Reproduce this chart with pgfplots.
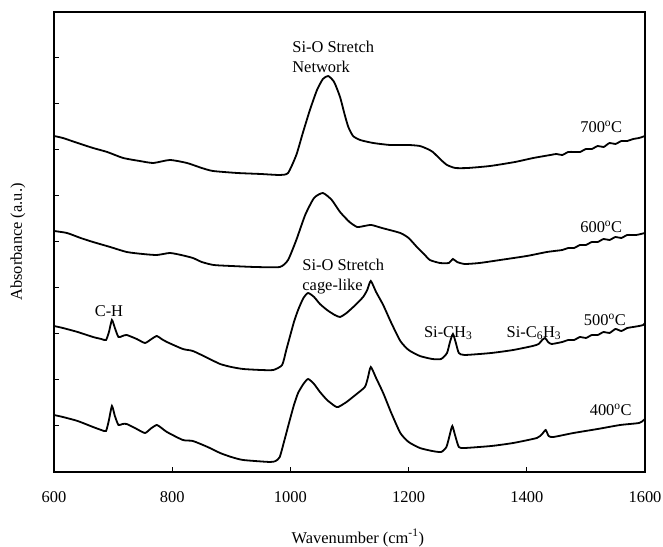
\documentclass[border=0pt]{standalone}
\usepackage{fontspec}
\setmainfont{Liberation Serif}
\usepackage{pgfplots}
\pgfplotsset{compat=1.18}
\usetikzlibrary{calc}

% y values are offset absorbance in arbitrary units (0..460)
\pgfplotstableread{
wn y
600 336
615 334
640 329
666 324
690 320
717 314
745 311
768 309
796 312
825 309
850 304
869 301
910 299
950 298
982 297
996 299
1010 317
1021 339
1033 362
1045 382
1055 393
1064 396
1074 390
1084 375
1092 357
1098 345
1106 336
1118 332
1140 329
1169 327
1200 327
1219 326
1232 323
1241 320
1255 312
1265 307
1279 304
1300 304
1338 306
1380 310
1411 314
1440 317
1450 318
1460 317
1470 320
1480 320
1490 320
1500 323
1510 323
1520 326
1530 325
1540 329
1550 328
1560 331
1570 331
1580 333
1590 334
1600 336
}\tseven

\pgfplotstableread{
wn y
600 241
622 239
645 234
666 230
695 225
723 220
750 218
774 217
796 219
815 217
835 214
850 210
870 207
900 206
940 205
982 205
996 212
1010 232
1025 257
1040 274
1055 279
1070 272
1084 260
1100 250
1113 245
1125 246
1137 247
1155 244
1186 239
1200 234
1214 225
1226 218
1236 212
1253 209
1268 209
1275 213
1282 210
1295 208
1320 209
1355 212
1400 216
1434 220
1460 222
1470 224
1480 224
1490 227
1500 227
1510 230
1520 230
1530 233
1540 232
1550 235
1560 234
1570 237
1585 237
1600 239
}\tsix

\pgfplotstableread{
wn y
600 146
615 144
640 140
666 135
680 133
688 132
693 140
698 152
703 144
709 135
716 136
723 137
740 133
754 129
765 133
774 136
782 133
791 130
818 123
835 121
860 114
881 108
900 105
920 103
950 102
971 102
986 107
993 122
999 135
1006 150
1013 162
1022 174
1030 179
1040 175
1050 168
1062 162
1075 157
1084 155
1095 159
1110 167
1123 175
1130 182
1136 191
1145 180
1157 167
1170 150
1186 131
1200 122
1219 116
1240 113
1255 113
1265 119
1270 130
1275 138
1280 129
1285 119
1295 117
1340 119
1377 122
1410 126
1420 128
1426 132
1431 134
1436 130
1442 128
1460 130
1470 132
1480 132
1490 135
1500 134
1510 137
1520 137
1530 140
1540 139
1550 143
1560 141
1570 144
1580 145
1590 146
1597 147
1600 149
}\tfive

\pgfplotstableread{
wn y
600 57
615 55
640 51
666 45
680 42
688 41
693 52
698 66
703 56
709 47
716 48
723 48
740 43
754 39
765 44
774 47
782 44
791 40
818 32
835 31
860 25
881 19
900 15
920 12
965 10
975 11
982 15
990 32
999 52
1006 67
1013 79
1022 88
1030 93
1040 88
1050 80
1062 72
1075 66
1081 65
1095 70
1110 77
1126 85
1131 94
1136 105
1145 94
1157 79
1170 60
1186 39
1200 30
1219 24
1240 21
1255 20
1264 25
1270 38
1274 46
1279 36
1285 25
1295 24
1340 26
1377 29
1417 34
1426 38
1432 42
1437 36
1445 35
1479 39
1520 43
1558 47
1590 49
1598 52
1600 53
}\tfour

\begin{document}
\fontsize{16.5}{20}\selectfont
\begin{tikzpicture}
  \begin{axis}[
    scale only axis, width=591bp, height=460bp,
    xmin=600, xmax=1600, ymin=0, ymax=460,
    xtick={600,800,...,1600},
    ytick={46,92,...,414}, yticklabels={},
    tick align=inside, xtick pos=bottom, ytick pos=left,
    major tick length=5bp,
    axis line style={line width=1.4bp},
    every tick/.style={black, line width=1bp},
    /pgf/number format/assume math mode=true,
    /pgf/number format/set thousands separator={},
    xticklabel style={font=\fontsize{16.5}{20}\selectfont, yshift=-14bp},
    xlabel={Wavenumber (cm\textsuperscript{-1})},
    ylabel={Absorbance (a.u.)},
    x label style={at={(axis description cs:0.514,0)}, anchor=center, yshift=-66bp},
    y label style={at={(axis description cs:-0.061,0.5)}, anchor=center},
    label style={font=\fontsize{16.5}{20}\selectfont},
    spectrum/.style={black, line width=1.8bp, no markers, smooth, tension=0.35},
  ]
    \addplot[spectrum] table[x=wn, y=y] {\tseven};
    \addplot[spectrum] table[x=wn, y=y] {\tsix};
    \addplot[spectrum] table[x=wn, y=y] {\tfive};
    \addplot[spectrum] table[x=wn, y=y] {\tfour};

    \node[anchor=north west, align=left, inner sep=0pt] at (axis cs:1003,431) {Si-O Stretch\\Network};
    \node[anchor=north west, align=left, inner sep=0pt] at (axis cs:1020,213) {Si-O Stretch\\cage-like};
    \node at (axis cs:693,161) {C-H};
    \node at (axis cs:1267,139) {Si-CH\textsubscript{3}};
    \node at (axis cs:1412,139) {Si-C\textsubscript{6}H\textsubscript{3}};
    \node at (axis cs:1526,345) {700\textsuperscript{o}C};
    \node at (axis cs:1526,245) {600\textsuperscript{o}C};
    \node at (axis cs:1532,152) {500\textsuperscript{o}C};
    \node at (axis cs:1542,62) {400\textsuperscript{o}C};
  \end{axis}
  \pgfresetboundingbox
  \path ($(current axis.south west)+(-54bp,-75bp)$) rectangle ($(current axis.north east)+(18bp,12bp)$);
\end{tikzpicture}
\end{document}
